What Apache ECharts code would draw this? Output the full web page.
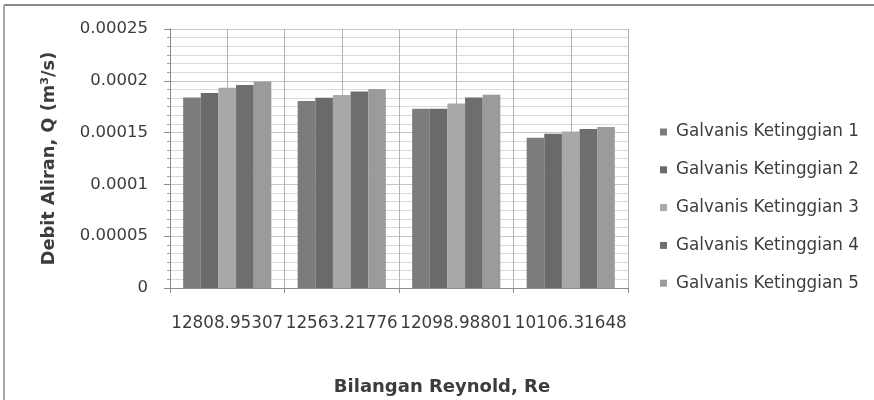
<!DOCTYPE html>
<html>
<head>
<meta charset="utf-8">
<script src="https://cdn.jsdelivr.net/npm/echarts@6/dist/echarts.min.js"></script>
<style>
  html, body { margin: 0; padding: 0; background: #ffffff; }
  #chart { width: 874px; height: 400px; }
</style>
</head>
<body>
<div id="chart"></div>
<script>
// Reynolds numbers (category labels)
const categories = ['12808.95307', '12563.21776', '12098.98801', '10106.31648'];

// Flow rate Q (m³/s) for each galvanised pipe height
const seriesNames = [
  'Galvanis Ketinggian 1',
  'Galvanis Ketinggian 2',
  'Galvanis Ketinggian 3',
  'Galvanis Ketinggian 4',
  'Galvanis Ketinggian 5'
];
const ketinggian1 = [0.0001839, 0.0001804, 0.0001730, 0.0001450];
const ketinggian2 = [0.0001882, 0.0001836, 0.0001730, 0.0001488];
const ketinggian3 = [0.0001933, 0.0001862, 0.0001781, 0.0001510];
const ketinggian4 = [0.0001959, 0.0001897, 0.0001839, 0.0001534];
const ketinggian5 = [0.0001994, 0.0001920, 0.0001865, 0.0001553];

// Y axis tick labels
const yTickLabels = ['0', '0.00005', '0.0001', '0.00015', '0.0002', '0.00025'];

const seriesData = [ketinggian1, ketinggian2, ketinggian3, ketinggian4, ketinggian5];
const barColors = ['#7c7c7c', '#6a6a6a', '#a8a8a8', '#6e6e6e', '#9b9b9b'];

const FONT = 'DejaVu Sans';
const TEXT = '#3c3c3c';

const chart = echarts.init(document.getElementById('chart'), null, { renderer: 'canvas' });

chart.setOption({
  backgroundColor: '#ffffff',
  animation: false,
  textStyle: { fontFamily: FONT },
  graphic: [
    { type: 'line', shape: { x1: 4, y1: 5, x2: 874, y2: 5 }, style: { stroke: '#8a8a8a', lineWidth: 2 } },
    { type: 'line', shape: { x1: 4, y1: 5, x2: 4, y2: 400 }, style: { stroke: '#a8a8a8', lineWidth: 2 } }
  ],
  grid: { left: 170, right: 246, top: 29, bottom: 112, containLabel: false, outerBoundsMode: 'none' },
  legend: {
    orient: 'vertical',
    left: 660,
    top: 122,
    padding: 0,
    itemWidth: 7,
    itemHeight: 7,
    itemGap: 17.8,
    icon: 'rect',
    textStyle: { fontFamily: FONT, fontSize: 16.8, color: TEXT, lineHeight: 20, padding: [0, 0, 0, 4] },
    data: seriesNames
  },
  xAxis: [
    {
      type: 'category',
      data: categories,
      name: 'Bilangan Reynold, Re',
      nameLocation: 'middle',
      nameGap: 90,
      nameTextStyle: { fontFamily: FONT, fontSize: 18, fontWeight: 'bold', color: TEXT, padding: [0, 0, 0, 86] },
      axisLine: { lineStyle: { color: '#8c8c8c', width: 1 } },
      axisTick: { show: true, length: 5, lineStyle: { color: '#8c8c8c' } },
      axisLabel: { interval: 0, margin: 27, fontFamily: FONT, fontSize: 16.8, color: TEXT },
      splitLine: { show: false }
    },
    {
      // half-category vertical gridlines
      type: 'value',
      position: 'top',
      min: 0,
      max: 4,
      interval: 0.5,
      axisLine: { show: false },
      axisTick: { show: false },
      axisLabel: { show: false },
      splitLine: { show: true, lineStyle: { color: '#b4b4b4', width: 1 } }
    }
  ],
  yAxis: {
    type: 'value',
    min: 0,
    max: 0.00025,
    interval: 0.00005,
    name: 'Debit Aliran, Q (m³/s)',
    nameLocation: 'middle',
    nameGap: 112,
    nameTextStyle: { fontFamily: FONT, fontSize: 17.8, fontWeight: 'bold', color: TEXT },
    axisLine: { show: true, lineStyle: { color: '#8c8c8c', width: 1 } },
    axisTick: { show: true, length: 6, lineStyle: { color: '#8c8c8c' } },
    minorTick: { show: true, splitNumber: 6, length: 3, lineStyle: { color: '#a0a0a0' } },
    axisLabel: {
      margin: 22,
      fontFamily: FONT,
      fontSize: 16.5,
      color: TEXT,
      formatter: function (v) { return yTickLabels[Math.round(v / 0.00005)]; }
    },
    splitLine: { show: true, lineStyle: { color: '#c6c6c6', width: 1 } },
    minorSplitLine: { show: true, lineStyle: { color: '#dadada', width: 1 } }
  },
  series: seriesNames.map(function (name, i) {
    return {
      name: name,
      type: 'bar',
      xAxisIndex: 0,
      data: seriesData[i],
      barGap: '0%',
      barCategoryGap: '23%',
      itemStyle: { color: barColors[i] }
    };
  })
});
</script>
</body>
</html>
